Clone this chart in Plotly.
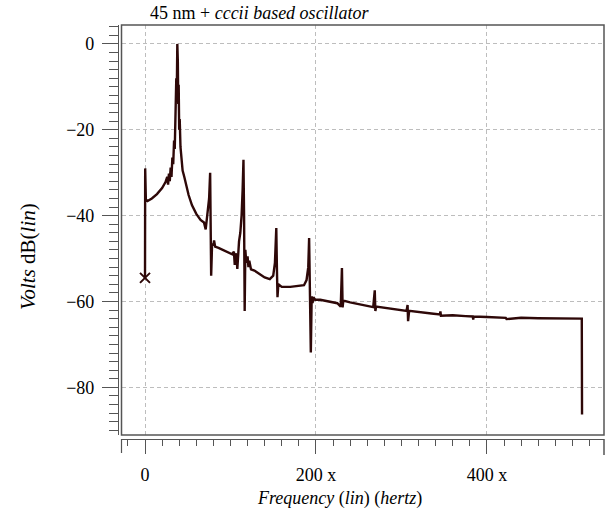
import plotly.graph_objects as go

# ---------------- data ----------------
freq_hz = [
    0, 0.2, 1.0, 3, 8, 14, 20, 24, 26, 27, 28, 29, 30, 31, 32, 33, 34, 34.8, 35.4, 36,
    36.6, 37.2, 37.8, 38.4, 38.9, 39.4, 40, 40.6, 41.5, 42.5, 44, 46, 48, 51, 55, 60,
    65, 69, 71, 72, 73.5, 75, 76.2, 76.8, 77.4, 78.5, 80, 80.8, 82, 86, 92, 98,
    102, 104, 105, 106, 107, 108, 109, 110, 111.5, 113, 114.2, 115.2, 115.9, 116.6, 117.4, 118.5,
    120, 121, 122, 124, 128, 134, 140, 146, 150, 152, 153.6, 154.3, 155, 156,
    160, 170, 180, 186, 189, 191, 192, 193, 194, 195, 196, 197, 199,
    205, 215, 225, 229, 230.4, 231.2, 232, 240, 250, 260, 267, 268.8, 269.5, 270.5,
    280, 290, 300, 306, 307.2, 307.8, 309, 320, 335, 345, 345.6, 346.2,
    360, 375, 383.5, 384, 384.5, 400, 422, 423, 440, 460, 480, 500, 511, 511.3,
]
volts_db = [
    -54.5, -29.0, -36.2, -36.6, -36.0, -35.0, -33.6, -32.2, -31.0, -32.8, -30.2, -32.0, -28.8, -31.0, -26.5, -28.0, -22.5, -24.5, -14.0, -17.0,
    -8.0, -11.0, 0.0, -4.0, -14.0, -9.5, -20.0, -17.5, -24.0, -26.0, -29.5, -31.0, -33.0, -35.2, -37.6, -39.6,
    -41.0, -41.6, -43.2, -41.4, -40.0, -36.0, -30.0, -42.0, -54.0, -46.5, -47.0, -45.8, -47.2, -47.5, -48.0, -48.6,
    -49.0, -48.4, -51.5, -48.8, -49.5, -52.4, -47.5, -46.0, -44.0, -40.0, -34.0, -27.0, -40.0, -62.2, -48.0, -51.0,
    -49.5, -52.0, -50.5, -52.5, -52.8, -53.6, -54.4, -54.8, -54.0, -51.0, -42.9, -52.0, -59.0, -56.0,
    -56.6, -56.6, -56.4, -56.2, -55.0, -52.0, -45.2, -60.0, -71.9, -58.8, -60.4, -59.0, -59.6,
    -59.6, -60.0, -60.4, -61.2, -52.2, -61.4, -59.8, -60.2, -60.6, -61.0, -61.3, -57.4, -62.2, -61.2,
    -61.5, -61.8, -62.0, -62.2, -60.8, -64.6, -62.2, -62.5, -62.8, -63.0, -62.3, -63.3,
    -63.2, -63.4, -63.5, -64.2, -63.5, -63.6, -63.8, -64.1, -63.8, -63.9, -64.0, -64.0, -64.0, -86.3,
]
assert len(freq_hz) == len(volts_db)

marker_freq = [0]
marker_db = [-54.5]

x_tickvals = [0, 200, 400]
x_ticktext = ["0", "200 x", "400 x"]
y_tickvals = [0, -20, -40, -60, -80]

title_text = "45 nm + <i>cccii based oscillator</i>"
x_title = "<i>Frequency</i> (<i>lin</i>) (<i>hertz</i>)"
y_title = "<i>Volts</i> dB(<i>lin</i>)"

# ---------------- styling ----------------
FONT = "Liberation Serif, Times New Roman, serif"
LINE_COLOR = "#2e0808"
AXIS_COLOR = "#555555"
GRID_COLOR = "#bdbdbd"

W, H = 610, 521
ML, MR, MT, MB = 118, 6, 25, 82
PW = W - ML - MR
PH = H - MT - MB

fig = go.Figure()
fig.add_trace(go.Scatter(
    x=freq_hz, y=volts_db, mode="lines",
    line=dict(color=LINE_COLOR, width=2.4),
    showlegend=False, hoverinfo="skip",
))
fig.add_trace(go.Scatter(
    x=marker_freq, y=marker_db, mode="markers",
    marker=dict(symbol="x-thin", size=10, line=dict(color=LINE_COLOR, width=2)),
    showlegend=False, hoverinfo="skip",
))

x_dom0 = 3.5 / PW
y_dom0 = 4.0 / PH

fig.update_layout(
    width=W, height=H,
    margin=dict(l=ML, r=MR, t=MT, b=MB, pad=0),
    paper_bgcolor="white", plot_bgcolor="white",
    font=dict(family=FONT, size=18, color="black"),
    xaxis=dict(
        domain=[x_dom0, 1], range=[-27.5, 537], anchor="free", position=0,
        showline=True, linecolor=AXIS_COLOR, linewidth=1.2,
        ticks="outside", ticklen=14, tickwidth=1.2, tickcolor=AXIS_COLOR,
        tickvals=x_tickvals, ticktext=x_ticktext, ticklabelstandoff=5,
        minor=dict(ticks="outside", dtick=20, tick0=0, ticklen=6, tickwidth=1.2,
                   tickcolor=AXIS_COLOR, showgrid=False),
        showgrid=True, gridcolor=GRID_COLOR, griddash="4px,3px", gridwidth=1,
        zeroline=False, tickfont=dict(family=FONT, size=18),
    ),
    yaxis=dict(
        domain=[y_dom0, 1], range=[-91.1, 4.4], anchor="free", position=0,
        showline=True, linecolor=AXIS_COLOR, linewidth=1.2,
        ticks="outside", ticklen=16, tickwidth=1.2, tickcolor=AXIS_COLOR,
        tickvals=y_tickvals, ticklabelstandoff=4,
        minor=dict(ticks="outside", dtick=2, tick0=0, ticklen=9, tickwidth=1.2,
                   tickcolor=AXIS_COLOR, showgrid=False),
        showgrid=True, gridcolor=GRID_COLOR, griddash="4px,3px", gridwidth=1,
        zeroline=False, tickfont=dict(family=FONT, size=18),
    ),
    shapes=[
        dict(type="rect", xref="x domain", yref="y domain", x0=0, x1=1, y0=0, y1=1,
             line=dict(color=AXIS_COLOR, width=1.5), fillcolor="rgba(0,0,0,0)", layer="above"),
        dict(type="line", xref="x domain", yref="paper", x0=0, x1=0, y0=0, y1=-14 / PH,
             line=dict(color=AXIS_COLOR, width=1.2)),
        dict(type="line", xref="x domain", yref="paper", x0=1, x1=1, y0=0, y1=-16 / PH,
             line=dict(color=AXIS_COLOR, width=1.5)),
    ],
    annotations=[
        dict(text=title_text, xref="paper", yref="paper",
             x=(260 - ML) / PW, y=(H - MB - 13) / PH, xanchor="center", yanchor="middle",
             showarrow=False, font=dict(family=FONT, size=18)),
        dict(text=x_title, xref="paper", yref="paper",
             x=(339 - ML) / PW, y=(H - MB - 498) / PH, xanchor="center", yanchor="middle",
             showarrow=False, font=dict(family=FONT, size=18)),
        dict(text=y_title, xref="paper", yref="paper", textangle=-90,
             x=(28 - ML) / PW, y=(H - MB - 257) / PH, xanchor="center", yanchor="middle",
             showarrow=False, font=dict(family=FONT, size=21)),
    ],
)

fig.write_html("out.html", config={"displayModeBar": False},
               post_script="document.body.style.margin='0px';")
